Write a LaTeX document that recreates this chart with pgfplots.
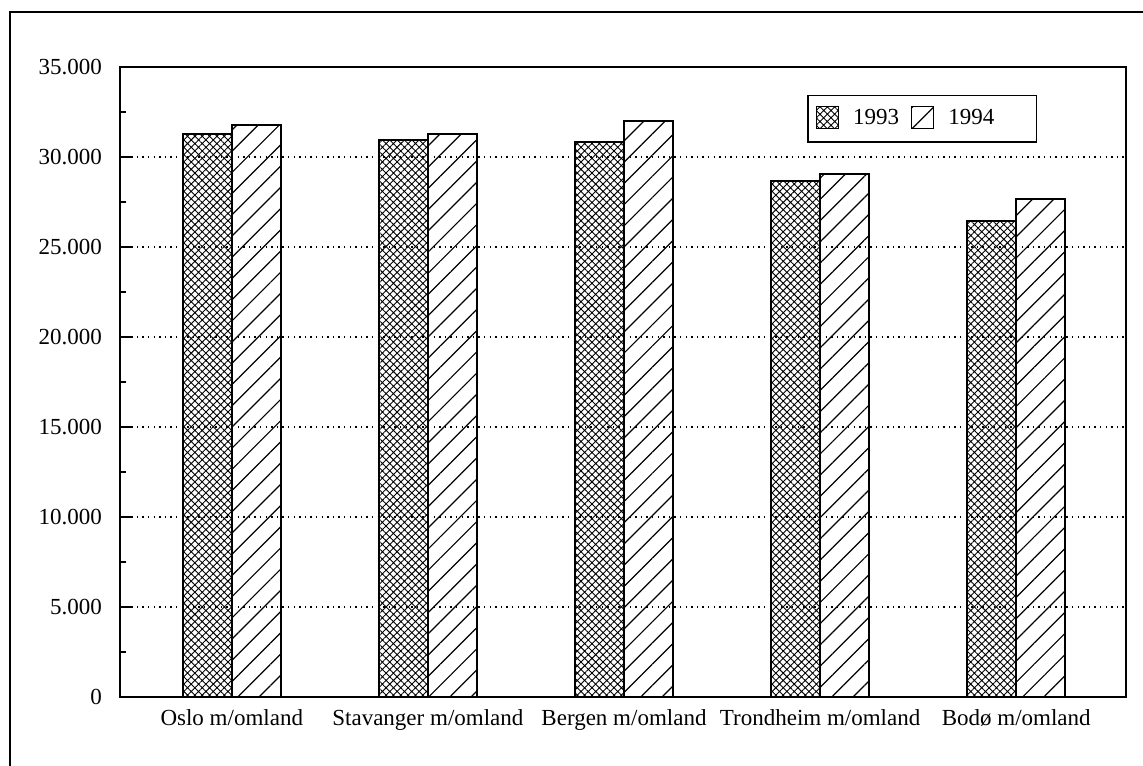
\documentclass[border=0pt]{standalone}
\usepackage{pgfplots}
\pgfplotsset{compat=1.18}
\usetikzlibrary{patterns.meta}
\usepackage{fontspec}
\setmainfont{Liberation Serif}

\begin{document}
\begin{tikzpicture}
\useasboundingbox (-60pt,-34pt) rectangle (511.5pt,348.5pt);
\begin{axis}[
  at={(0,0)}, anchor=south west,
  scale only axis, width=503pt, height=315pt,
  ybar=0pt, bar width=24.5pt,
  xmin=-0.57, xmax=4.56, ymin=0, ymax=35000,
  scaled y ticks=false,
  xtick={0,1,2,3,4},
  xticklabels={Oslo m/omland, Stavanger m/omland, Bergen m/omland, Trondheim m/omland, Bodø m/omland},
  xtick style={draw=none},
  ytick={0,5000,...,35000},
  yticklabels={0,5.000,10.000,15.000,20.000,25.000,30.000,35.000},
  minor y tick num=1,
  ytick pos=left,
  tick align=inside,
  major tick length=5.5pt, minor tick length=3pt,
  every tick/.style={black, line width=0.7pt},
  ymajorgrids,
  major grid style={black, line width=0.7pt, dash pattern=on 0.7pt off 2.1pt},
  axis line style={line width=1pt},
  tick label style={font=\fontsize{11.5}{13}\selectfont},
  yticklabel style={xshift=-5.5pt},
  xticklabel style={yshift=-2.5pt},
  legend columns=2,
  legend cell align=left,
  legend style={at={(1,1)}, anchor=north east, xshift=-44.5pt, yshift=-14pt,
    font=\fontsize{11.5}{13}\selectfont, draw=black, line width=0.7pt,
    inner xsep=4pt, inner ysep=5pt,
    /tikz/every odd column/.append style={column sep=5pt},
    /tikz/every even column/.append style={column sep=4pt}},
  legend image code/.code={\draw[#1, line width=0.6pt] (0pt,-5pt) rectangle (11pt,6pt);},
]
\addplot[draw=black, line width=0.75pt, pattern={Hatch[angle=45, distance=2.6pt, line width=0.45pt]}]
  coordinates {(0,31280) (1,30940) (2,30830) (3,28670) (4,26440)};
\addlegendentry{1993}
\addplot[draw=black, line width=0.75pt, pattern={Lines[angle=45, distance=7.5pt, line width=0.6pt]}]
  coordinates {(0,31780) (1,31280) (2,32000) (3,29060) (4,27670)};
\addlegendentry{1994\rule{15pt}{0pt}}
\end{axis}
\draw[line width=1pt] (-55pt,-40pt) -- (-55pt,342.5pt) -- (520pt,342.5pt);
\end{tikzpicture}
\end{document}
